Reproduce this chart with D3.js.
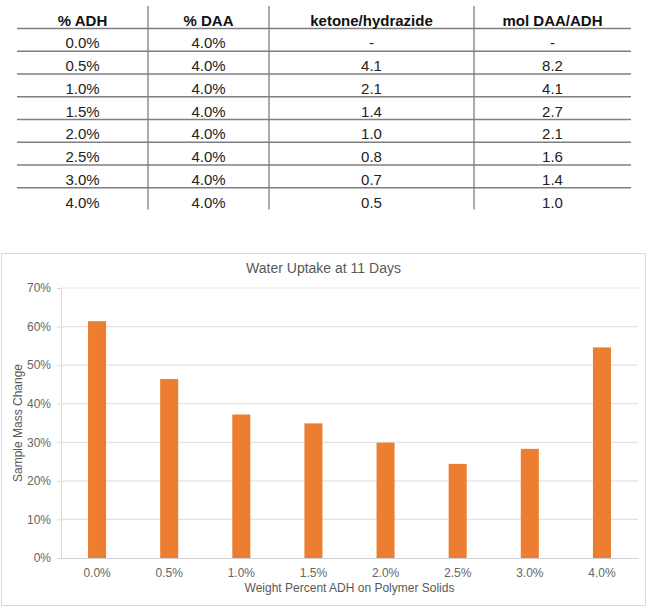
<!DOCTYPE html>
<html>
<head>
<meta charset="utf-8">
<script src="https://cdn.jsdelivr.net/npm/d3@7"></script>
<style>
  body { margin: 0; background: #fff; }
  svg { display: block; font-family: "Liberation Sans", Arial, sans-serif; }
</style>
</head>
<body>
<div id="chart"></div>
<script>
// table data
const tableHeaders = ["% ADH", "% DAA", "ketone/hydrazide", "mol DAA/ADH"];
const pctADH = ["0.0%", "0.5%", "1.0%", "1.5%", "2.0%", "2.5%", "3.0%", "4.0%"];
const pctDAA = ["4.0%", "4.0%", "4.0%", "4.0%", "4.0%", "4.0%", "4.0%", "4.0%"];
const ketoneHydrazide = ["-", "4.1", "2.1", "1.4", "1.0", "0.8", "0.7", "0.5"];
const molRatio = ["-", "8.2", "4.1", "2.7", "2.1", "1.6", "1.4", "1.0"];

// chart data
const categories = ["0.0%", "0.5%", "1.0%", "1.5%", "2.0%", "2.5%", "3.0%", "4.0%"];
const massChange = [0.614, 0.464, 0.372, 0.349, 0.299, 0.244, 0.283, 0.546];
const yTicks = [0, 0.1, 0.2, 0.3, 0.4, 0.5, 0.6, 0.7];

const W = 652, H = 613;

const svg = d3.select("#chart")
  .append("svg")
  .attr("width", W)
  .attr("height", H);

// ---- table ----
const colEdges = [17, 148, 269, 474, 631];
const rowScale = d3.scaleLinear().domain([0, 8]).range([28.5, 210.5]);
const columns = [pctADH, pctDAA, ketoneHydrazide, molRatio];
const colCenter = (i) => (colEdges[i] + colEdges[i + 1]) / 2;

const table = svg.append("g");

// horizontal rules under header and each row except last
d3.range(0, 8).forEach((r) => {
  table.append("line")
    .attr("x1", colEdges[0]).attr("x2", colEdges[4])
    .attr("y1", rowScale(r)).attr("y2", rowScale(r))
    .attr("stroke", "#7f7f7f")
    .attr("stroke-width", 1.3);
});

// vertical rules
[1, 2, 3].forEach((c) => {
  table.append("line")
    .attr("x1", colEdges[c]).attr("x2", colEdges[c])
    .attr("y1", 6).attr("y2", rowScale(8) - 1)
    .attr("stroke", "#7f7f7f")
    .attr("stroke-width", 1.3);
});

table.selectAll("text.head")
  .data(tableHeaders)
  .enter()
  .append("text")
  .attr("class", "head")
  .attr("x", (d, i) => colCenter(i))
  .attr("y", rowScale(0) - 2.8)
  .attr("text-anchor", "middle")
  .attr("font-size", 15)
  .attr("font-weight", "bold")
  .attr("fill", "#111")
  .text((d) => d);

columns.forEach((col, c) => {
  table.selectAll("text.c" + c)
    .data(col)
    .enter()
    .append("text")
    .attr("class", "c" + c)
    .attr("x", colCenter(c))
    .attr("y", (d, r) => rowScale(r + 1) - 3)
    .attr("text-anchor", "middle")
    .attr("font-size", 15)
    .attr("fill", "#222")
    .text((d) => d);
});

// ---- chart ----
svg.append("rect")
  .attr("x", 1.5).attr("y", 253.5)
  .attr("width", 644).attr("height", 352)
  .attr("fill", "#fff")
  .attr("stroke", "#d9d9d9");

const plotLeft = 61, plotRight = 638, plotTop = 288, plotBottom = 558;

const yScale = d3.scaleLinear()
  .domain([0, 0.7])
  .range([plotBottom, plotTop]);

const xScale = d3.scaleBand()
  .domain(categories)
  .range([plotLeft, plotRight])
  .paddingInner(0.75)
  .paddingOuter(0.375);

// gridlines
svg.append("g")
  .selectAll("line")
  .data(yTicks.slice(1))
  .enter()
  .append("line")
  .attr("x1", plotLeft).attr("x2", plotRight)
  .attr("y1", (d) => yScale(d)).attr("y2", (d) => yScale(d))
  .attr("stroke", "#e3e3e3")
  .attr("stroke-width", 1.2);

// y axis
const yAxis = d3.axisLeft(yScale)
  .tickValues(yTicks)
  .tickFormat(d3.format(".0%"))
  .tickSize(4)
  .tickPadding(6);

const gy = svg.append("g")
  .attr("transform", "translate(" + plotLeft + ",0)")
  .call(yAxis);
gy.select(".domain").attr("stroke", "#d9d9d9");
gy.selectAll(".tick line").attr("stroke", "#d9d9d9");
gy.selectAll(".tick text")
  .attr("fill", "#666")
  .attr("font-size", 12)
  .attr("font-family", "Liberation Sans, Arial, sans-serif");

// bars
svg.append("g")
  .selectAll("rect")
  .data(massChange)
  .enter()
  .append("rect")
  .attr("x", (d, i) => xScale(categories[i]))
  .attr("y", (d) => yScale(d))
  .attr("width", xScale.bandwidth())
  .attr("height", (d) => plotBottom - yScale(d))
  .attr("fill", "#ed7d31");

// x axis
const xAxis = d3.axisBottom(xScale)
  .tickSize(0)
  .tickPadding(10);

const gx = svg.append("g")
  .attr("transform", "translate(0," + plotBottom + ")")
  .call(xAxis);
gx.select(".domain").attr("stroke", "#d0d0d0").attr("stroke-width", 1.2);
gx.selectAll(".tick text")
  .attr("fill", "#666")
  .attr("font-size", 12)
  .attr("font-family", "Liberation Sans, Arial, sans-serif");

// title and axis labels
svg.append("text")
  .text("Water Uptake at 11 Days")
  .attr("x", 323.5)
  .attr("y", 273)
  .attr("text-anchor", "middle")
  .attr("font-size", 14)
  .attr("fill", "#595959");

svg.append("text")
  .text("Weight Percent ADH on Polymer Solids")
  .attr("x", (plotLeft + plotRight) / 2)
  .attr("y", 592)
  .attr("text-anchor", "middle")
  .attr("font-size", 12)
  .attr("fill", "#595959");

svg.append("text")
  .text("Sample Mass Change")
  .attr("transform", "rotate(-90)")
  .attr("x", -(plotTop + plotBottom) / 2)
  .attr("y", 22)
  .attr("text-anchor", "middle")
  .attr("font-size", 12)
  .attr("fill", "#595959");
</script>
</body>
</html>
